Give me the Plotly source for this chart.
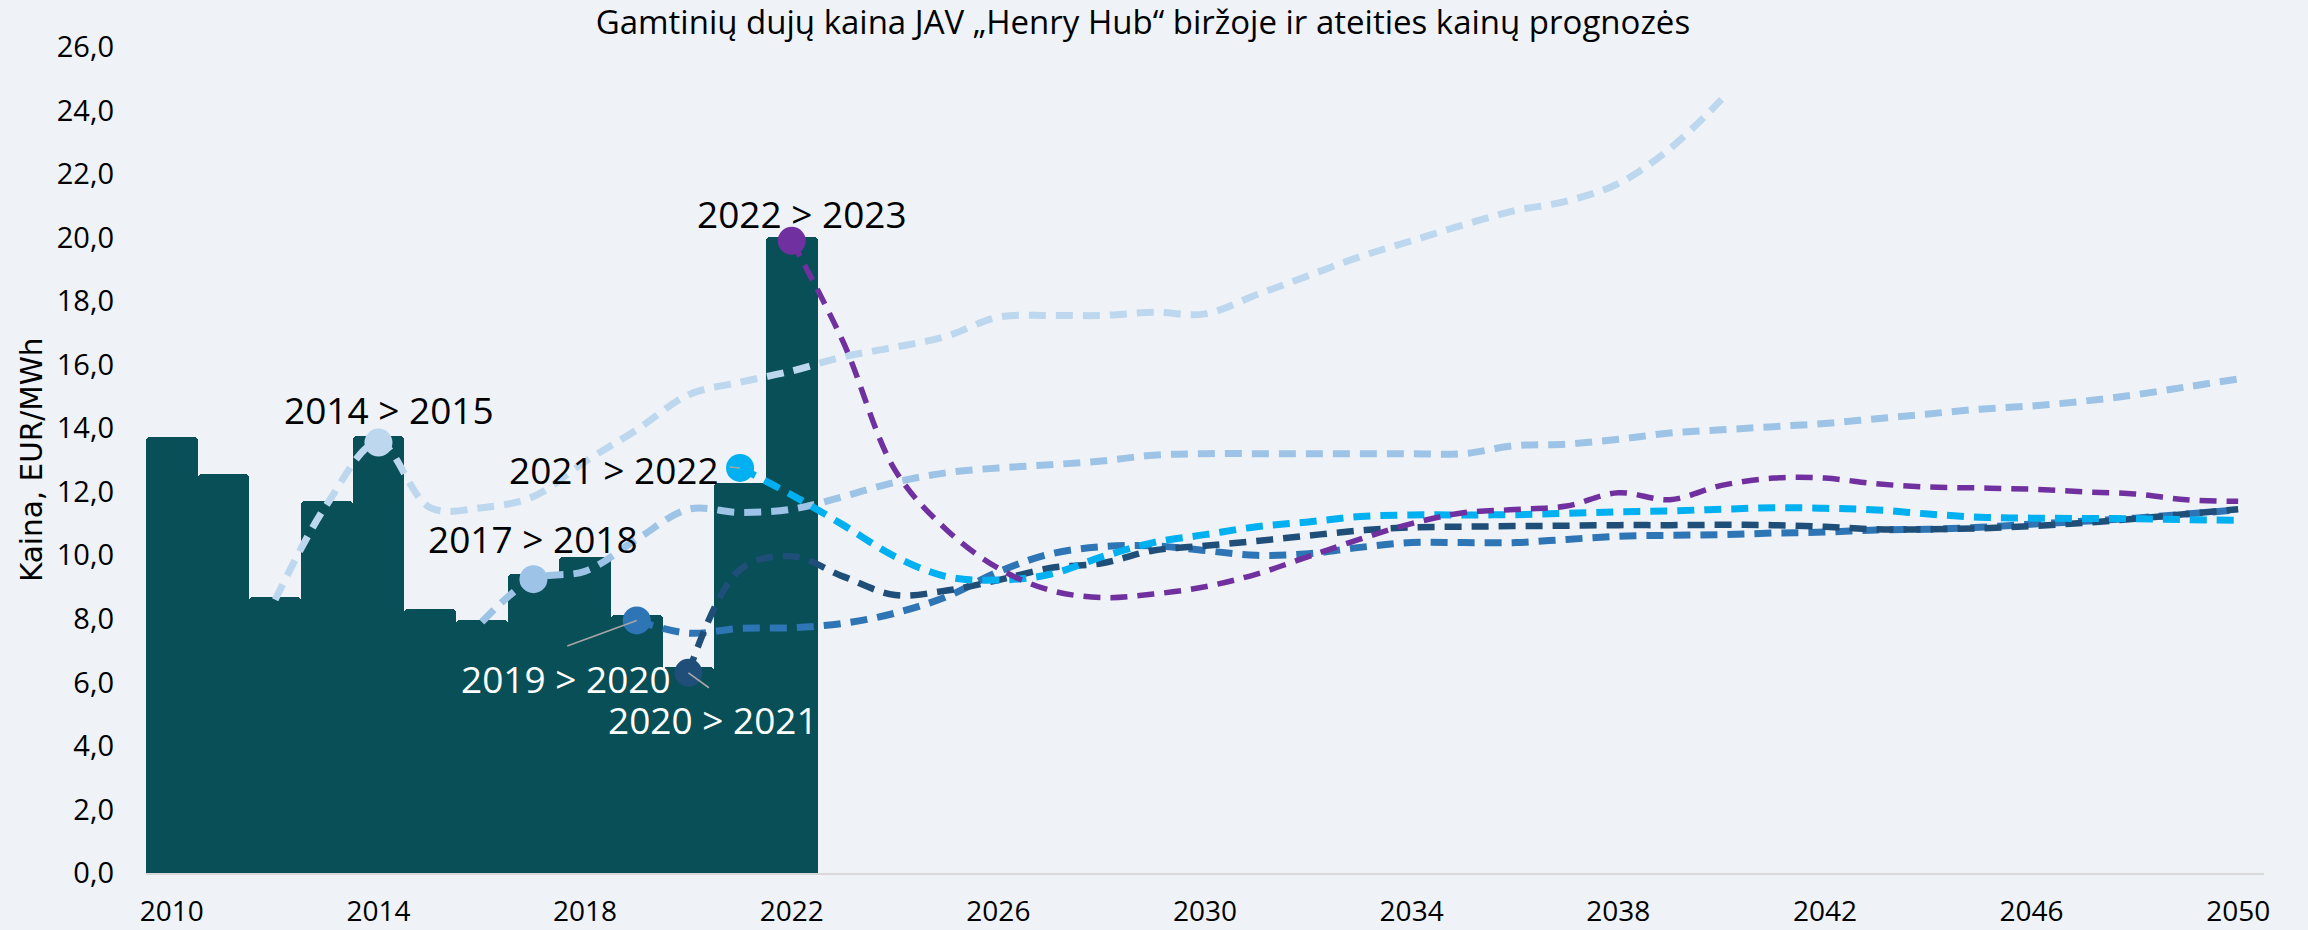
import plotly.graph_objects as go

# ---------------- data ----------------
hist_years = list(range(2010, 2023))
hist_price = [13.73, 12.55, 8.70, 11.71, 13.75, 8.31, 7.96, 9.41, 9.96, 8.12, 6.48, 12.27, 20.02]

f2014_years = list(range(2012, 2041))
f2014_vals = [8.6, 11.6, 13.55, 11.5, 11.5, 11.85, 12.95, 13.95, 15.05, 15.45, 15.8, 16.25,
              16.55, 16.9, 17.5, 17.55, 17.55, 17.65, 17.6, 18.2, 18.8, 19.4, 19.9, 20.4,
              20.85, 21.15, 21.7, 22.8, 24.35]

f2017_years = list(range(2016, 2051))
f2017_vals = [7.9, 9.25, 9.5, 10.5, 11.45, 11.35, 11.45, 11.85, 12.3, 12.6, 12.75, 12.85,
              12.97, 13.15, 13.2, 13.2, 13.2, 13.2, 13.2, 13.2, 13.45, 13.5, 13.65, 13.85,
              13.95, 14.05, 14.15, 14.3, 14.45, 14.6, 14.7, 14.85, 15.05, 15.3, 15.55]

f2019_years = list(range(2019, 2051))
f2019_vals = [7.95, 7.55, 7.7, 7.72, 7.86, 8.18, 8.7, 9.48, 10.04, 10.27, 10.3, 10.15, 10.0,
              10.05, 10.25, 10.4, 10.4, 10.4, 10.5, 10.6, 10.63, 10.65, 10.7, 10.73, 10.8,
              10.82, 10.88, 10.98, 11.07, 11.17, 11.3, 11.43]

f2020_years = list(range(2020, 2051))
f2020_vals = [6.3, 9.55, 9.97, 9.33, 8.75, 8.89, 9.22, 9.6, 9.75, 10.15, 10.3, 10.45, 10.62,
              10.78, 10.88, 10.9, 10.92, 10.93, 10.95, 10.95, 10.96, 10.95, 10.9, 10.82,
              10.82, 10.85, 10.92, 11.02, 11.15, 11.3, 11.45]

f2021_years = list(range(2021, 2051))
f2021_vals = [12.75, 11.9, 10.95, 9.96, 9.33, 9.22, 9.4, 9.95, 10.4, 10.65, 10.9, 11.05,
              11.22, 11.27, 11.27, 11.28, 11.32, 11.37, 11.4, 11.45, 11.5, 11.48, 11.43,
              11.3, 11.2, 11.17, 11.16, 11.15, 11.12, 11.1]

f2022_years = list(range(2022, 2051))
f2022_vals = [19.9, 16.7, 12.68, 10.8, 9.59, 8.9, 8.67, 8.78, 9.01, 9.41, 9.96, 10.51, 11.0,
              11.34, 11.44, 11.55, 11.97, 11.75, 12.2, 12.43, 12.43, 12.25, 12.15, 12.12,
              12.08, 12.0, 11.93, 11.75, 11.7]

series_labels = ["2014 > 2015", "2017 > 2018", "2019 > 2020", "2020 > 2021", "2021 > 2022", "2022 > 2023"]
marker_years = [2014, 2017, 2019, 2020, 2021, 2022]

x_ticks = list(range(2010, 2051, 4))
y_ticks = list(range(0, 27, 2))

title_text = "Gamtinių dujų kaina JAV „Henry Hub“ biržoje ir ateities kainų prognozės"
y_title = "Kaina, EUR/MWh"

# ---------------- styles ----------------
BG = "#EFF3F7"
BAR = "#084F57"
colors = ["#BDD7EE", "#9DC3E6", "#2E75B6", "#1F4E79", "#00B0F0", "#7030A0"]
widths = [7, 7, 7, 6.5, 7, 5.5]
dashes = ["17px,10px"] * 6
FONT = "Open Sans"

series = [
    (f2014_years, f2014_vals),
    (f2017_years, f2017_vals),
    (f2019_years, f2019_vals),
    (f2020_years, f2020_vals),
    (f2021_years, f2021_vals),
    (f2022_years, f2022_vals),
]

fig = go.Figure()

fig.add_trace(go.Bar(
    x=hist_years, y=hist_price, width=1.0,
    marker=dict(color=BAR, line=dict(width=0), cornerradius=4),
    hoverinfo="x+y", showlegend=False,
))

for (xs, ys), col, w, d in zip(series, colors, widths, dashes):
    fig.add_trace(go.Scatter(
        x=xs, y=ys, mode="lines",
        line=dict(color=col, width=w, dash=d, shape="spline", smoothing=1.0),
        showlegend=False,
    ))

for (xs, ys), col, my in zip(series, colors, marker_years):
    i = xs.index(my)
    fig.add_trace(go.Scatter(
        x=[xs[i]], y=[ys[i]], mode="markers",
        marker=dict(color=col, size=28, line=dict(width=0)),
        showlegend=False,
    ))

# label placement (pixel offsets from the marker)
label_cfg = [
    dict(xshift=11, yshift=33, xanchor="center", color="black"),
    dict(xshift=0, yshift=41, xanchor="center", color="black"),
    dict(xshift=-71, yshift=-58, xanchor="center", color="white"),
    dict(xshift=25, yshift=-47, xanchor="center", color="white"),
    dict(xshift=-19, yshift=-2, xanchor="right", color="black"),
    dict(xshift=10, yshift=27, xanchor="center", color="black"),
]

annotations = []
for (xs, ys), lab, my, cfg in zip(series, series_labels, marker_years, label_cfg):
    i = xs.index(my)
    annotations.append(dict(
        x=xs[i], y=ys[i], xref="x", yref="y", text=lab, showarrow=False,
        xanchor=cfg["xanchor"], yanchor="middle",
        xshift=cfg["xshift"], yshift=cfg["yshift"],
        font=dict(family=FONT, size=37, color=cfg["color"]),
    ))

# leader lines
leader = [(2, -71, 26), (3, 22, 16), (4, -12, -1)]
for idx, ax, ay in leader:
    xs, ys = series[idx]
    i = xs.index(marker_years[idx])
    annotations.append(dict(
        x=xs[i], y=ys[i], xref="x", yref="y", text="", showarrow=True,
        arrowhead=0, arrowwidth=1.6, arrowcolor="#A6A6A6", ax=ax, ay=ay, standoff=0,
    ))

annotations.append(dict(
    x=-0.0538, y=0.5, xref="paper", yref="paper", text=y_title, showarrow=False,
    textangle=-90, xanchor="center", yanchor="middle",
    font=dict(family="DejaVu Sans", size=29.5, color="black"),
))

fig.update_layout(
    width=2308, height=930,
    paper_bgcolor=BG, plot_bgcolor=BG,
    margin=dict(l=146, r=44, t=47, b=57, autoexpand=False),
    bargap=0,
    separators=", ",
    showlegend=False,
    title=dict(text=title_text, x=0.4952, xanchor="center", xref="container",
               y=0.988, yanchor="top", yref="container",
               font=dict(family=FONT, size=33, color="black")),
    annotations=annotations,
    xaxis=dict(range=[2009.5, 2050.5], tickvals=x_ticks, ticktext=[str(t) for t in x_ticks],
               showgrid=False, zeroline=False, showline=True, linecolor="#D9D9D9", linewidth=2,
               ticks="", ticklabelstandoff=12, automargin=False,
               tickfont=dict(family=FONT, size=28, color="black")),
    yaxis=dict(range=[0, 26], tickvals=y_ticks, tickformat=".1f",
               showgrid=False, zeroline=False, showline=False, ticks="",
               ticklabelstandoff=31, automargin=False,
               tickfont=dict(family=FONT, size=29, color="black")),
)

fig.write_html(
    "out.html",
    config={"displayModeBar": False},
    post_script="document.body.style.margin='0';document.body.style.padding='0';"
                "document.body.style.background='" + BG + "';",
)
